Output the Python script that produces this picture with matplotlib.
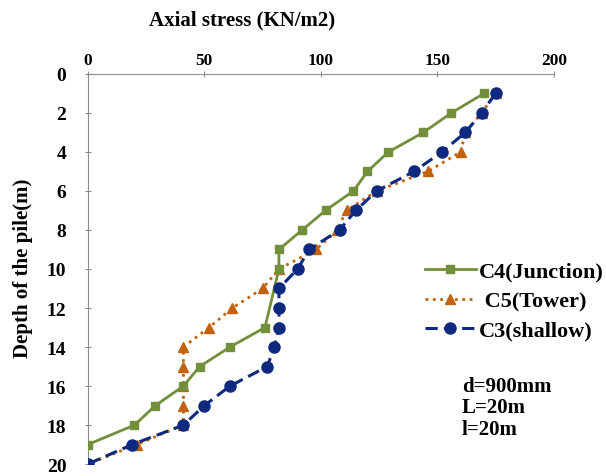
import matplotlib
matplotlib.use("Agg")
import matplotlib.pyplot as plt

plt.rcParams['font.family'] = ['Liberation Serif', 'DejaVu Serif']
plt.rcParams['font.weight'] = 'bold'

# depth (m) and axial stress (KN/m2) for each pile
depth_c4 = [1, 2, 3, 4, 5, 6, 7, 8, 9, 10, 13, 14, 15, 16, 17, 18, 19]
stress_c4 = [170, 156, 144, 129, 120, 114, 102, 92, 82, 82, 76, 61, 48, 41, 29, 20, 0]

depth_c5 = [1, 2, 3, 4, 5, 6, 7, 8, 9, 10, 11, 12, 13, 14, 15, 16, 17, 18, 19, 20]
stress_c5 = [175, 169, 162, 160, 146, 124, 111, 107, 98, 82, 75, 62, 52, 41, 41, 41, 41, 41, 21, 0]

depth_c3 = [1, 2, 3, 4, 5, 6, 7, 8, 9, 10, 11, 12, 13, 14, 15, 16, 17, 18, 19, 20]
stress_c3 = [175, 169, 162, 152, 140, 124, 115, 108, 95, 90, 82, 82, 82, 80, 77, 61, 50, 41, 19, 0]

x_ticks = [0, 50, 100, 150, 200]
y_ticks = [0, 2, 4, 6, 8, 10, 12, 14, 16, 18, 20]

fig = plt.figure(figsize=(6.06, 4.77), dpi=100)
ax = fig.add_axes([0.145, 0.025, 0.769, 0.818])

ax.plot(stress_c4, depth_c4, color='#72903A', lw=2, marker='s', ms=6,
        label='C4(Junction)', zorder=3)
ax.plot(stress_c5, depth_c5, color='#C0620F', lw=2, ls=':', marker='^', ms=7,
        label=' C5(Tower)', zorder=2)
ax.plot(stress_c3, depth_c3, color='#0E2A80', lw=2.2, ls=(0, (4, 2)), marker='o', ms=8,
        label='C3(shallow)', zorder=4)

ax.set_xlim(0, 200)
ax.set_ylim(20, 0)
ax.set_xticks(x_ticks)
ax.set_yticks(y_ticks)
ax.xaxis.tick_top()

for side in ['right', 'bottom']:
    ax.spines[side].set_visible(False)
for side in ['top', 'left']:
    ax.spines[side].set_color('#8c8c8c')
ax.tick_params(axis='both', colors='#8c8c8c', labelcolor='black',
               length=5, direction='inout')
ax.tick_params(axis='x', labelsize=12.5, pad=2)
ax.tick_params(axis='y', labelsize=14, pad=13)

fig.text(0.40, 0.958, 'Axial stress (KN/m2)', fontsize=15, fontweight='bold',
         ha='center', va='center')
fig.text(0.038, 0.438, 'Depth of the pile(m)', fontsize=15, fontweight='bold',
         ha='center', va='center', rotation=90)

fig.legend(loc='upper left', bbox_to_anchor=(0.701, 0.45), frameon=False,
           handlelength=2.3, handletextpad=0.12, labelspacing=0.4,
           borderpad=0, borderaxespad=0,
           prop={'weight': 'bold', 'size': 16})

fig.text(0.762, 0.21, 'd=900mm\nL=20m\nl=20m', fontsize=15, fontweight='bold',
         va='top', ha='left', linespacing=1.1)

fig.savefig('out.png', dpi=100)
